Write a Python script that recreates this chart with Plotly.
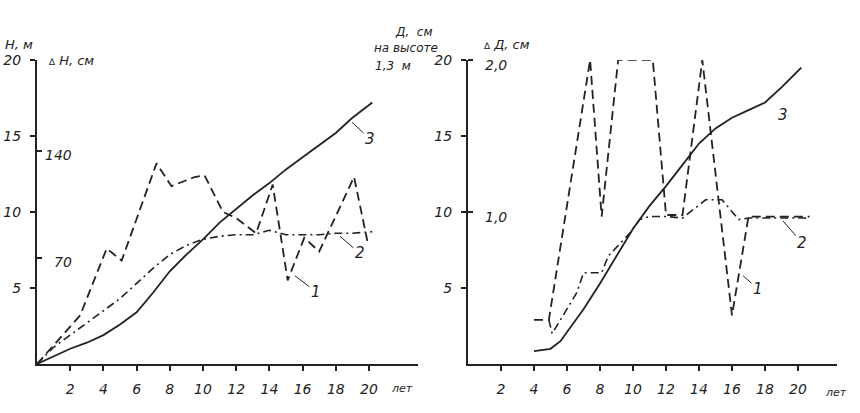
import plotly.graph_objects as go

# ---- left panel: height growth (years) ----
left_years = [0, 1, 2, 3, 4, 5, 6, 7, 8, 9, 10, 11, 12, 13, 14, 15, 16, 17, 18, 19, 20.2]
left_height = [0, 0.5, 1.0, 1.4, 1.9, 2.6, 3.4, 4.7, 6.1, 7.2, 8.2, 9.3, 10.2, 11.1, 11.9,
               12.8, 13.6, 14.4, 15.2, 16.2, 17.2]
left_mean = [0, 1.1, 1.9, 2.7, 3.5, 4.3, 5.3, 6.3, 7.2, 7.8, 8.2, 8.4, 8.5, 8.5, 8.8,
             8.5, 8.5, 8.5, 8.6, 8.6, 8.7]
left_incr_years = [0, 2.6, 4.2, 5.1, 7.2, 8.1, 9.5, 10.1, 11.2, 12.0, 13.2, 14.2, 15.1,
                   16.1, 17.0, 19.1, 19.9]
left_incr = [0, 3.2, 7.6, 6.8, 13.2, 11.7, 12.3, 12.4, 10.0, 9.6, 8.6, 11.8, 5.5,
             8.3, 7.4, 12.3, 8.1]

# ---- right panel: diameter at 1.3 m ----
right_diam_years = [4.0, 5.0, 5.6, 6.6, 7, 8, 9, 10, 11, 12, 13, 14, 15, 16, 17, 18, 19, 20.2]
right_diam = [0.85, 1.0, 1.5, 3.0, 3.6, 5.3, 7.1, 8.9, 10.4, 11.7, 13.1, 14.5, 15.5,
              16.2, 16.7, 17.2, 18.2, 19.5]
right_mean_years = [4.9, 5.1, 6.6, 7.0, 8.1, 8.5, 9.8, 10.4, 11.0, 12.0, 13.0, 14.4,
                    15.4, 16.4, 17.0, 20.7]
right_mean = [2.9, 2.0, 4.7, 6.0, 6.0, 7.1, 8.6, 9.5, 9.7, 9.7, 9.6, 10.8, 10.8, 9.5,
              9.6, 9.6]
right_incr_years = [4.0, 4.9, 7.4, 8.1, 9.1, 11.2, 12.0, 13.0, 14.2, 16.0, 17.0, 20.7]
right_incr = [2.9, 2.9, 20.0, 9.7, 20.0, 20.0, 9.8, 9.8, 20.0, 3.2, 9.7, 9.7]

x_ticks = [2, 4, 6, 8, 10, 12, 14, 16, 18, 20]
h_ticks = [5, 10, 15, 20]
# increment scales share the main axis: dH (cm) = 10 * value, dD (cm) = value / 10
dh_ticks = [7, 14]
dh_labels = ["70", "140"]
dd_ticks = [10, 20]
dd_labels = ["1,0", "2,0"]

INK = "#222"
FONT = dict(family="DejaVu Sans", size=14, color=INK, style="italic")
W, H = 860, 413
Y0, Y1 = 363, 53          # pixel rows of value 0 and 20
X0_L, X0_R = 37, 468      # pixel columns of year 0

fig = go.Figure()


def add_curves(xa, ya, xs_solid, ys_solid, xs_dd, ys_dd, xs_dash, ys_dash):
    common = dict(xaxis=xa, yaxis=ya, mode="lines", showlegend=False,
                  hoverinfo="skip", cliponaxis=False)
    fig.add_trace(go.Scatter(x=xs_solid, y=ys_solid, line=dict(color=INK, width=1.8), **common))
    fig.add_trace(go.Scatter(x=xs_dd, y=ys_dd,
                             line=dict(color=INK, width=1.6, dash="8px,4px,2px,4px"), **common))
    fig.add_trace(go.Scatter(x=xs_dash, y=ys_dash,
                             line=dict(color=INK, width=1.8, dash="9px,5px"), **common))


add_curves("x", "y", left_years, left_height, left_years, left_mean, left_incr_years, left_incr)
add_curves("x2", "y2", right_diam_years, right_diam, right_mean_years, right_mean,
           right_incr_years, right_incr)

y_dom = [(H - Y0) / H, (H - Y1) / H]
xax = dict(showline=True, linecolor=INK, linewidth=2, ticks="outside", ticklen=5,
           tickwidth=1.5, tickcolor=INK, tickvals=x_ticks, showgrid=False, zeroline=False,
           ticklabelstandoff=6)
yax = dict(showline=True, linecolor=INK, linewidth=2, ticks="outside", ticklen=5,
           tickwidth=1.5, tickcolor=INK, tickvals=h_ticks, range=[0, 20], domain=y_dom,
           showgrid=False, zeroline=False, ticklabelstandoff=6)

fig.update_layout(
    width=W, height=H,
    margin=dict(l=0, r=0, t=0, b=0),
    paper_bgcolor="white", plot_bgcolor="white",
    font=FONT,
    xaxis=dict(xax, domain=[X0_L / W, 418 / W], range=[0, (418 - X0_L) / 16.6], anchor="y"),
    yaxis=dict(yax, anchor="x",
               minor=dict(tickvals=dh_ticks, ticks="inside", ticklen=5, tickwidth=1.5,
                          tickcolor=INK, showgrid=False)),
    xaxis2=dict(xax, domain=[X0_R / W, 837 / W], range=[0, (837 - X0_R) / 16.5], anchor="y2"),
    yaxis2=dict(yax, anchor="x2",
                minor=dict(tickvals=dd_ticks, ticks="inside", ticklen=5, tickwidth=1.5,
                           tickcolor=INK, showgrid=False)),
)


def px_note(text, px, py, xanchor="center", size=14):
    fig.add_annotation(text=text, x=px / W, y=1 - py / H, xref="paper", yref="paper",
                       showarrow=False, xanchor=xanchor, yanchor="middle",
                       font=dict(FONT, size=size))


# increment scale labels, inside the axes
for v, lab in zip(dh_ticks, dh_labels):
    fig.add_annotation(text=lab, x=0, y=v, xref="x", yref="y", xshift=37, yshift=-4,
                       xanchor="right", yanchor="middle", showarrow=False, font=FONT)
for v, lab in zip(dd_ticks, dd_labels):
    fig.add_annotation(text=lab, x=0, y=v, xref="x2", yref="y2", xshift=15, yshift=-5,
                       xanchor="left", yanchor="middle", showarrow=False, font=FONT)

tri = "<span style='font-size:9px'>∆</span>"
px_note("H, м", 3, 37, "left", 13)
px_note(tri + " H, см", 46, 54, "left", 13)
px_note("Д,  см", 393, 24, "left", 12)
px_note("на высоте", 372, 41, "left", 12)
px_note("1,3  м", 373, 59, "left", 12)
px_note(tri + " Д, см", 481, 37, "left", 13)
px_note("лет", 402, 388, "center", 11)
px_note("лет", 836, 392, "center", 11)

# curve labels with short leader lines
labels = [
    ("x", "y", "1", 15.54, 5.8, 21, 16),
    ("x", "y", "2", 18.25, 8.4, 20, 17),
    ("x", "y", "3", 18.98, 15.9, 18, 17),
    ("x2", "y2", "1", 16.67, 5.8, 15, 13),
    ("x2", "y2", "2", 19.1, 9.4, 19, 22),
    ("x2", "y2", "3", 18.1, 17.2, 16, 12),
]
for xr, yr, txt, x, y, ax, ay in labels:
    fig.add_annotation(text=txt, x=x, y=y, xref=xr, yref=yr, ax=ax, ay=ay,
                       showarrow=True, arrowhead=0, arrowwidth=1, arrowcolor=INK,
                       standoff=0, font=dict(FONT, size=15))

fig.write_html("out.html", config={"displayModeBar": False},
               post_script="document.body.style.margin='0';")
